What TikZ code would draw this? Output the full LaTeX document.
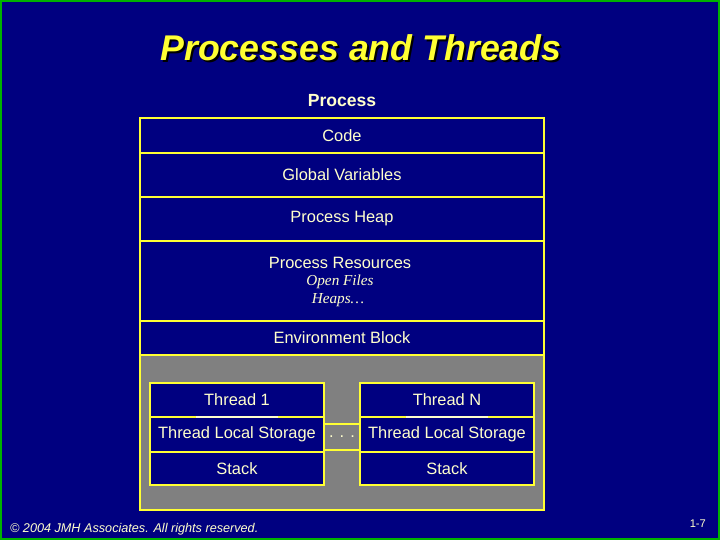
\documentclass[tikz,border=0pt]{standalone}
\usepackage{fontspec}
\setmainfont{Liberation Sans}
\newfontfamily\handfont{Liberation Serif}
\definecolor{slide}{HTML}{000080}
\definecolor{frame}{HTML}{FFFF33}
\definecolor{pane}{HTML}{808080}
\definecolor{ink}{HTML}{FFFFCC}
\tikzset{part/.style={draw=frame,line width=1.4pt,fill=slide},
label/.style={text=ink,font=\fontsize{14}{16}\selectfont,inner sep=0pt},
hand/.style={text=ink,font=\fontsize{13}{15}\selectfont\handfont\itshape,inner sep=0pt}}
\begin{document}
\begin{tikzpicture}[x=0.03cm,y=-0.03cm]
%% slide
\fill[slide] (0,0) rectangle (720,540);
\draw[green!70!black,line width=1pt] (1,1) rectangle (719,539);
\useasboundingbox (0,0) rectangle (720,540);
\node[text=black,font=\bfseries\itshape\fontsize{30.5}{34}\selectfont] at (363,50) {Processes and Threads};
\node (title) [text=frame,font=\bfseries\itshape\fontsize{30.5}{34}\selectfont] at (361,48) {Processes and Threads};
\node (proc) [text=ink,font=\bfseries\fontsize{15}{17}\selectfont] at (342,101) {Process};

%% process blocks
\draw[part] (140,118) rectangle (544,153) node[label,midway] (code) {Code};
\draw[part] (140,153) rectangle (544,197) node[label,midway] (glob) {Global Variables};
\draw[part] (140,197) rectangle (544,241) node[label,midway] (heap) {Process Heap};
\draw[part] (140,241) rectangle (544,321);
\node (res) [label] at (340,263) {Process Resources};
\node (files) [hand] at (340,282) {Open Files};
\node (heaps) [hand] at (338,300) {Heaps\ldots};
\draw[part] (140,321) rectangle (544,355) node[label,midway] (env) {Environment Block};
\draw[part,fill=pane] (140,355) rectangle (544,510);

%% threads
\foreach \x/\t in {150/1,360/N} {
  \draw[part] (\x,383) rectangle (\x+174,417) node[label,midway] {Thread \t};
  \draw[part] (\x,417) rectangle (\x+174,452) node[label,midway] {Thread Local Storage};
  \draw[part] (\x,452) rectangle (\x+174,485) node[label,midway] {Stack};
  \draw[ink,line width=1.4pt] (\x+46,417) -- (\x+128,417);
}
\draw[draw=frame,line width=1.4pt,fill=pane] (324,424) rectangle (360,450) node[label,midway] (dots) {. . .};

%% footer
\node (copy) [anchor=west,text=ink,font=\itshape\fontsize{10.8}{12}\selectfont] at (6,529) {© 2004 JMH Associates. All rights reserved.};
\node (page) [anchor=east,text=ink,font=\fontsize{9.5}{11}\selectfont] at (710,524) {1-7};
\end{tikzpicture}
\end{document}
